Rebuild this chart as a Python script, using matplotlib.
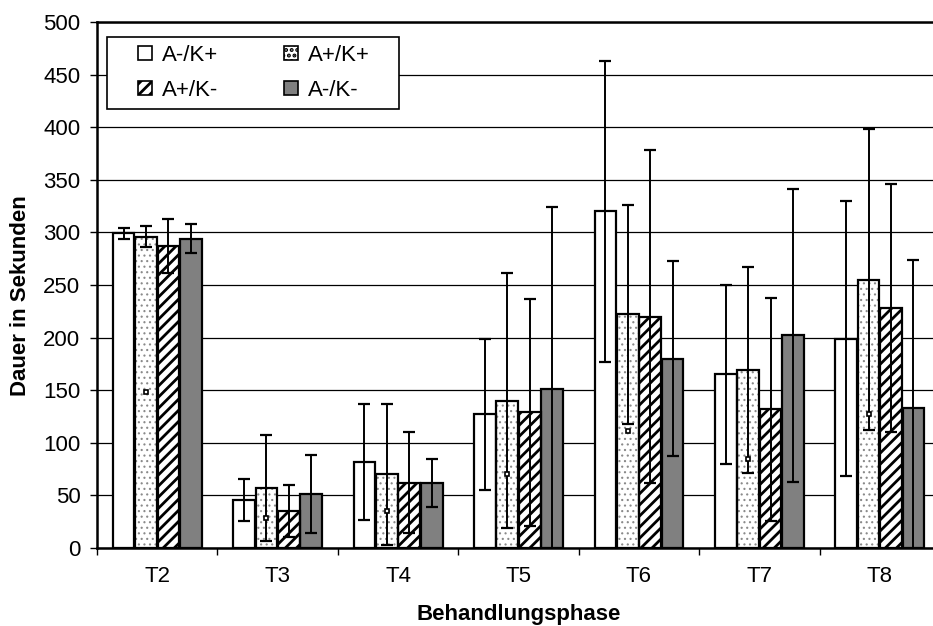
"""Grouped bar chart of phase durations with standard deviations."""

import numpy as np
import matplotlib.pyplot as plt
from matplotlib.patches import Patch, Rectangle
from matplotlib.legend_handler import HandlerPatch

plt.rcParams['font.family'] = ['Liberation Sans', 'DejaVu Sans']
plt.rcParams['hatch.linewidth'] = 2.0

phases = ['T2', 'T3', 'T4', 'T5', 'T6', 'T7', 'T8']
groups = ['A-/K+', 'A+/K+', 'A+/K-', 'A-/K-']

# mean duration per phase (seconds)
mean_am_kp = [299, 46, 82, 127, 320, 165, 199]
mean_ap_kp = [296, 57, 70, 140, 222, 169, 255]
mean_ap_km = [287, 35, 62, 129, 220, 132, 228]
mean_am_km = [294, 51, 62, 151, 180, 202, 133]

# standard deviation per phase
sd_am_kp = [5, 20, 55, 72, 143, 85, 131]
sd_ap_kp = [10, 50, 67, 121, 104, 98, 143]
sd_ap_km = [26, 25, 48, 108, 158, 106, 118]
sd_am_km = [14, 37, 23, 173, 93, 139, 141]

means = [mean_am_kp, mean_ap_kp, mean_ap_km, mean_am_km]
sds = [sd_am_kp, sd_ap_kp, sd_ap_km, sd_am_km]

# fill, hatch, hatch colour, hatch line width for each group
styles = [
    ('white', '', 'black', 1.0),
    ('white', '...', '#8a8a8a', 0.8),
    ('white', '///', 'black', 2.0),
    ('#808080', '', 'black', 1.0),
]

FS = 16

fig = plt.figure(figsize=(9.33, 6.26), dpi=100)
ax = fig.add_axes([0.104, 0.1246, 0.9035, 0.8403])

x = np.arange(len(phases))
width = 0.18
step = 0.186


def bar_layer(pos, m, face, hatch, hcol, hlw):
    with plt.rc_context({'hatch.linewidth': hlw}):
        bars = ax.bar(pos, m, width, color=face, hatch=hatch, edgecolor=hcol,
                      linewidth=0, zorder=2)
        for b in bars:
            if hasattr(b, 'set_hatch_linewidth'):
                b.set_hatch_linewidth(hlw)


for i, (m, s) in enumerate(zip(means, sds)):
    face, hatch, hcol, hlw = styles[i]
    pos = x + (i - 1.5) * step
    # pattern layer, then a black outline on top of it
    bar_layer(pos, m, face, hatch, hcol, hlw)
    ax.bar(pos, m, width, facecolor='none', edgecolor='black',
           linewidth=1.6, zorder=3)
    ax.errorbar(pos, m, yerr=s, fmt='none', ecolor='black', elinewidth=1.4,
                capsize=4.5, capthick=1.6, zorder=4)
    if i == 1:
        # small mark at half height inside the dotted bars
        ax.plot(pos, np.array(m) / 2, 's', ms=3.5, mfc='white', mec='black',
                mew=1.2, zorder=4)

ax.set_xlim(-0.5, len(phases) - 0.5)
ax.set_ylim(0, 500)
ax.set_yticks(np.arange(0, 501, 50))
ax.set_xticks(x)
ax.set_xticklabels(phases)
ax.set_xticks(np.arange(-0.5, len(phases), 1.0), minor=True)
ax.tick_params(axis='x', which='major', length=0, pad=13, labelsize=FS)
ax.tick_params(axis='x', which='minor', length=5, width=1, direction='out')
ax.tick_params(axis='y', length=5, width=1, direction='out', pad=7,
               labelsize=FS)

ax.yaxis.grid(True, color='black', linewidth=0.9, zorder=0)
ax.set_axisbelow(True)
for side in ['left', 'bottom', 'top']:
    ax.spines[side].set_linewidth(1.8)
ax.spines['right'].set_visible(False)

ax.set_ylabel('Dauer in Sekunden', fontsize=FS, fontweight='bold')
ax.yaxis.set_label_coords(-0.078, 0.479)
ax.set_xlabel('Behandlungsphase', fontsize=FS, fontweight='bold',
              labelpad=12)


def square_handle(legend, orig_handle, xdescent, ydescent, width, height,
                  fontsize):
    return Rectangle((-xdescent + width - height, -ydescent), height, height)


# legend box drawn separately so its padding can be set freely
box = Rectangle((107 / 933, 1 - 109 / 626), 292 / 933, 72 / 626,
                transform=fig.transFigure, facecolor='white',
                edgecolor='black', linewidth=1.2, zorder=9)
fig.add_artist(box)

handles = []
for face, hatch, hcol, hlw in styles:
    handles.append(Patch(facecolor=face, hatch=hatch, edgecolor='black',
                         linewidth=1.2))
order = [0, 2, 1, 3]
leg = fig.legend([handles[k] for k in order], [groups[k] for k in order],
                 ncol=2, loc='center', bbox_to_anchor=(254 / 933, 1 - 73 / 626),
                 fontsize=FS, frameon=False, handlelength=0.62,
                 handleheight=0.62, handletextpad=0.42, columnspacing=3.0,
                 borderpad=0, labelspacing=0.62,
                 handler_map={Patch: HandlerPatch(patch_func=square_handle)})
leg.set_zorder(10)

fig.savefig('out.png', dpi=100)
